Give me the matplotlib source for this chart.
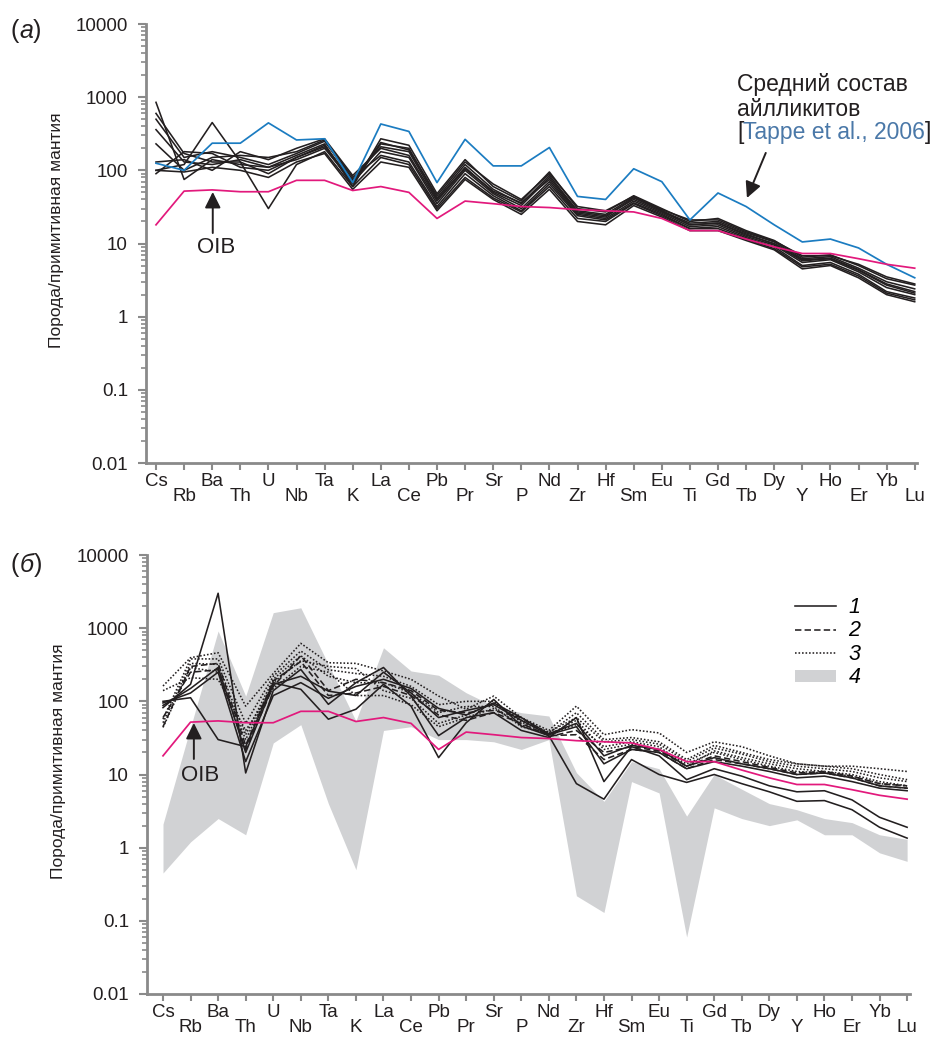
#!/usr/bin/env python

from __future__ import annotations

import matplotlib

matplotlib.use("Agg")
import matplotlib.pyplot as plt
from matplotlib.lines import Line2D
from matplotlib.patches import Patch
from matplotlib.ticker import LogLocator, NullFormatter

plt.rcParams["font.family"] = ["Liberation Sans", "DejaVu Sans"]

ELEMENTS = ["Cs", "Rb", "Ba", "Th", "U", "Nb", "Ta", "K", "La", "Ce", "Pb", "Pr", "Sr", "P",
            "Nd", "Zr", "Hf", "Sm", "Eu", "Ti", "Gd", "Tb", "Dy", "Y", "Ho", "Er", "Yb", "Lu"]

OIB = [18, 52, 54, 51, 51, 73, 73, 53, 60, 50, 22, 38, 35, 32, 31, 29, 28, 27, 22, 15, 15,
       11.5, 9, 7.3, 7.3, 6.2, 5.2, 4.6]

AILLIKITE_AVG = [125, 100, 235, 235, 445, 260, 270, 68, 430, 340, 68, 265, 115, 115, 205, 44,
                 40, 105, 70, 21, 49, 32, 18, 10.5, 11.5, 8.7, 5.2, 3.4]

# panel (a): samples
A1 = [850, 75, 140, 120, 110, 160, 230, 60, 270, 220, 48, 140, 60, 38, 95, 30, 27, 45, 30, 20, 22, 15, 11, 6.5, 7.0, 5.0, 3.3, 2.7]
A2 = [600, 170, 130, 130, 90, 150, 210, 65, 230, 200, 42, 120, 55, 35, 85, 28, 25, 43, 28, 19, 20, 14, 10.5, 6.2, 6.6, 4.6, 3.0, 2.4]
A3 = [500, 150, 180, 150, 120, 170, 250, 75, 210, 180, 40, 110, 50, 33, 80, 27, 24, 40, 27, 18, 19, 13, 10, 6.0, 6.3, 4.4, 2.8, 2.2]
A4 = [360, 130, 120, 140, 110, 140, 200, 68, 180, 150, 35, 100, 48, 30, 70, 25, 22, 38, 26, 17, 18, 12.5, 9.5, 5.5, 6.0, 4.1, 2.5, 2.0]
A5 = [230, 100, 150, 160, 150, 180, 260, 80, 160, 130, 32, 90, 45, 28, 65, 24, 21, 36, 25, 16, 17, 12, 9, 5.0, 5.5, 3.8, 2.2, 1.8]
A6 = [100, 120, 450, 130, 30, 120, 180, 60, 150, 120, 30, 80, 42, 27, 60, 22, 20, 35, 24, 16, 16, 11.5, 8.5, 4.8, 5.2, 3.6, 2.1, 1.7]
A7 = [100, 95, 110, 100, 80, 130, 170, 55, 130, 110, 28, 75, 40, 25, 55, 20, 18, 33, 23, 15, 15, 11, 8.2, 4.5, 5.0, 3.4, 2.0, 1.6]
A8 = [90, 180, 170, 110, 100, 150, 220, 70, 240, 190, 45, 130, 65, 40, 90, 32, 28, 44, 29, 21, 21, 14.5, 10.8, 6.8, 6.8, 5.2, 3.5, 2.8]
A9 = [130, 140, 100, 180, 140, 200, 270, 85, 200, 160, 38, 105, 52, 36, 75, 26, 23, 42, 28, 18, 19, 13.5, 9.8, 5.8, 6.2, 4.3, 2.7, 2.1]

# panel (б): 1 - solid, 2 - dashed, 3 - dotted
S1 = [100, 112, 30, 24, 180, 146, 57, 78, 171, 86, 17, 51, 106, 46, 34, 7.5, 4.6, 16, 10, 7.8, 10, 7.5, 5.8, 4.3, 4.4, 3.3, 1.9, 1.35]
S2 = [82, 171, 3000, 10.5, 140, 273, 91, 180, 290, 118, 34, 60, 70, 40, 32, 60, 8, 24, 18, 8.5, 12, 9.5, 7, 5.8, 6, 4.5, 2.6, 1.9]
S3 = [88, 150, 290, 20, 170, 220, 138, 120, 250, 130, 60, 75, 90, 55, 35, 45, 14, 22, 20, 12, 15, 13, 11, 9, 9.5, 8, 6.5, 6]
S4 = [95, 130, 250, 15, 120, 180, 110, 160, 200, 150, 80, 65, 95, 60, 36, 50, 18, 25, 22, 13, 17, 14, 12, 10, 10.5, 9, 7, 6.5]
D1 = [60, 250, 270, 22, 160, 420, 140, 200, 180, 140, 75, 70, 75, 60, 33, 40, 20, 24, 21, 13, 18, 15, 12.5, 10.5, 11, 9.5, 7.5, 7]
D2 = [45, 300, 330, 25, 190, 350, 120, 130, 160, 120, 65, 55, 70, 50, 34, 35, 16, 22, 20, 12, 16, 14, 12, 10, 10.5, 9, 7, 6.5]
T1 = [162, 395, 462, 86, 240, 620, 337, 330, 260, 200, 118, 78, 118, 60, 40, 86, 35, 41, 37, 20, 28, 24, 18, 14, 13, 13, 12, 11]
T2 = [57, 380, 380, 50, 220, 487, 270, 240, 220, 160, 90, 100, 100, 55, 38, 60, 28, 30, 26, 15, 23, 19, 15, 13, 12, 11, 9, 8]
T3 = [51, 330, 320, 35, 200, 420, 220, 180, 180, 130, 70, 85, 85, 45, 36, 48, 24, 28, 24, 13, 21, 17, 14, 12, 11, 10, 8, 7]
T4 = [44, 290, 250, 30, 180, 360, 300, 280, 140, 110, 50, 65, 95, 52, 37, 70, 30, 32, 28, 16, 25, 20, 16, 14, 13, 12, 10, 8.5]
T5 = [140, 210, 200, 40, 150, 300, 250, 120, 120, 90, 45, 60, 80, 48, 35, 55, 22, 26, 22, 14, 20, 16, 13, 11, 10.5, 9.5, 7.5, 7]

# field 4 (grey band)
BAND_UPPER = [2.1, 44, 915, 118, 1630, 1900, 320, 54, 540, 260, 227, 131, 86, 70, 63, 10.6, 4.3, 15, 12,
              2.7, 10, 6.3, 4, 3.3, 2.5, 2.2, 1.5, 1.3]
BAND_LOWER = [0.45, 1.2, 2.5, 1.5, 27, 48, 4, 0.5, 40, 45, 30, 30, 28, 22, 30, 0.22, 0.13, 8, 5.6,
              0.06, 3.5, 2.5, 2, 2.4, 1.5, 1.5, 0.85, 0.65]

TOP_SAMPLES = [A1, A2, A3, A4, A5, A6, A7, A8, A9]
BOTTOM_SAMPLES = [(S1, "-"), (S2, "-"), (S3, "-"), (S4, "-"),
                  (D1, (0, (4, 2))), (D2, (0, (4, 2))),
                  (T1, (0, (1, 1.2))), (T2, (0, (1, 1.2))), (T3, (0, (1, 1.2))),
                  (T4, (0, (1, 1.2))), (T5, (0, (1, 1.2)))]

BLACK = "#231f20"
PINK = "#e2197c"
BLUE = "#1b7cc1"
REF_BLUE = "#4a78a8"
BAND_GREY = "#d1d2d4"
AXIS_GREY = "#8a8a8a"

W, H = 937, 1038


def style_axis(ax, xlim):
    ax.set_yscale("log")
    ax.set_ylim(0.01, 10000)
    ax.set_xlim(*xlim)
    for side in ("top", "right"):
        ax.spines[side].set_visible(False)
    for side in ("left", "bottom"):
        ax.spines[side].set_color(AXIS_GREY)
        ax.spines[side].set_linewidth(2)

    ax.set_yticks([10.0 ** k for k in range(-2, 5)])
    ax.set_yticklabels(["0.01", "0.1", "1", "10", "100", "1000", "10000"])
    ax.yaxis.set_minor_locator(LogLocator(base=10, subs=range(2, 10), numticks=20))
    ax.yaxis.set_minor_formatter(NullFormatter())
    ax.tick_params(axis="y", which="major", length=6, width=1.5, color=AXIS_GREY,
                   labelsize=13.5, pad=7, labelcolor=BLACK)
    ax.tick_params(axis="y", which="minor", length=3.5, width=1.2, color=AXIS_GREY)

    ax.set_xticks(range(len(ELEMENTS)))
    ax.set_xticklabels(ELEMENTS, fontsize=13.5, color=BLACK)
    ax.tick_params(axis="x", length=5, width=1.5, color=AXIS_GREY, pad=2)
    for index, tick in enumerate(ax.xaxis.get_major_ticks()):
        if index % 2:
            tick.set_pad(13)

    ax.set_ylabel("Порода/примитивная мантия", fontsize=12.5, color=BLACK)
    ax.yaxis.set_label_coords(-0.106, 0.53)


def put_pieces(fig, x_px, y_px, pieces, size):
    renderer = fig.canvas.get_renderer()
    x = x_px
    for text, style in pieces:
        item = fig.text(x / W, 1 - y_px / H, text, fontsize=size, va="center", ha="left",
                        color=style.get("color", BLACK), style=style.get("style", "normal"))
        x += item.get_window_extent(renderer).width


def main() -> int:
    fig = plt.figure(figsize=(W / 100, H / 100), dpi=100)
    xs = list(range(len(ELEMENTS)))

    # panel (a)
    ax_a = fig.add_axes([146 / W, 1 - 463 / H, (917 - 146) / W, 439 / H])
    style_axis(ax_a, ((146 - 156) / 28.1, (917 - 156) / 28.1))
    for sample in TOP_SAMPLES:
        ax_a.plot(xs, sample, color=BLACK, linewidth=1.15, zorder=3)
    ax_a.plot(xs, AILLIKITE_AVG, color=BLUE, linewidth=1.25, zorder=4)
    ax_a.plot(xs, OIB, color=PINK, linewidth=1.25, zorder=5)

    arrow = dict(arrowstyle="-|>", color=BLACK, lw=1.4, mutation_scale=24, shrinkA=0, shrinkB=0)
    ax_a.annotate("", xy=(2.02, 50.6), xytext=(2.02, 13.9), arrowprops=arrow)
    ax_a.text(2.14, 8.7, "OIB", fontsize=16, ha="center", va="center", color=BLACK)
    ax_a.annotate("", xy=(21.03, 41.9), xytext=(21.7, 173), arrowprops=arrow)
    put_pieces(fig, 737, 85, [("Средний состав", {})], 16.5)
    put_pieces(fig, 737, 109, [("айлликитов", {})], 16.5)
    put_pieces(fig, 737, 132, [("[", {}), ("Tappe et al., 2006", {"color": REF_BLUE}), ("]", {})], 16.5)
    put_pieces(fig, 11, 31, [("(", {}), ("а", {"style": "italic"}), (")", {})], 18)

    # panel (б)
    ax_b = fig.add_axes([147 / W, 1 - 994 / H, (910 - 147) / W, 439 / H])
    style_axis(ax_b, ((147 - 163) / 27.56, (910 - 163) / 27.56))
    ax_b.fill_between(xs, BAND_LOWER, BAND_UPPER, color=BAND_GREY, linewidth=0, zorder=1)
    for sample, dash in BOTTOM_SAMPLES:
        ax_b.plot(xs, sample, color=BLACK, linewidth=1.15, linestyle=dash, zorder=3)
    ax_b.plot(xs, OIB, color=PINK, linewidth=1.25, zorder=5)
    ax_b.annotate("", xy=(1.12, 50.6), xytext=(1.12, 16.3), arrowprops=arrow)
    ax_b.text(1.34, 9.6, "OIB", fontsize=16, ha="center", va="center", color=BLACK)
    put_pieces(fig, 11, 565, [("(", {}), ("б", {"style": "italic"}), (")", {})], 18)

    handles = [
        Line2D([], [], color=BLACK, linewidth=1.15),
        Line2D([], [], color=BLACK, linewidth=1.15, linestyle=(0, (4, 2))),
        Line2D([], [], color=BLACK, linewidth=1.15, linestyle=(0, (1, 1.2))),
        Patch(facecolor=BAND_GREY, edgecolor="none"),
    ]
    ax_b.legend(handles, ["1", "2", "3", "4"], loc="upper left", bbox_to_anchor=(0.849, 0.905),
                frameon=False, borderaxespad=0, borderpad=0, handlelength=1.9,
                handleheight=0.45, handletextpad=0.6, labelspacing=0.12,
                prop={"size": 15.5, "style": "italic"})

    fig.savefig("out.png", dpi=100)
    plt.close(fig)
    return 0


if __name__ == "__main__":
    raise SystemExit(main())
